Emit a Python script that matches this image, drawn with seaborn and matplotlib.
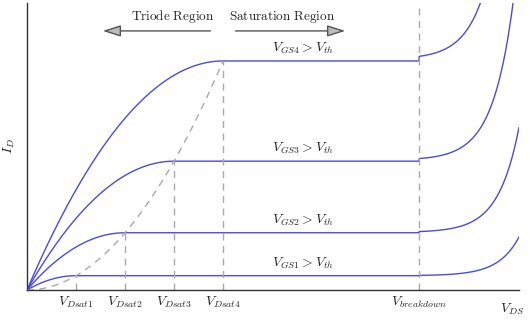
#IMPORTING NECESSARY LIBRARIES
import matplotlib
matplotlib.use('Agg')
import matplotlib.pyplot as plt
import numpy as np
import seaborn as sns

#DATA
vdsat = [1, 2, 3, 4]                      # saturation voltage of each curve
isat = [1, 4, 9, 16]                      # saturation current (square law)
gs_labels = [r'$V_{GS1} > V_{th}$', r'$V_{GS2} > V_{th}$',
             r'$V_{GS3} > V_{th}$', r'$V_{GS4} > V_{th}$']
v_breakdown = 8
bd_gain = [0.021, 0.057, 0.114, 0.2]      # breakdown rise amplitude
bd_tau = 0.42
tick_pos = [1, 2, 3, 4, 5, 6, 7, 8]
tick_labels = [r'$V_{Dsat1}$', r'$V_{Dsat2}$', r'$V_{Dsat3}$', r'$V_{Dsat4}$',
               '', '', '', r'$V_{breakdown}$']

#STYLE
sns.set_style('white')
plt.rcParams['mathtext.fontset'] = 'cm'
plt.rcParams['font.family'] = ['DejaVu Serif']

blue = '#4b4bdc'
grey = '#aaaaaa'
axcol = '#333333'

fig = plt.figure(figsize=(5.3, 3.2), dpi=100)
ax = fig.add_axes([27 / 530, 30 / 320, 492 / 530, 287 / 320])

#CURVES: TRIODE PARABOLA, FLAT SATURATION, EXPONENTIAL BREAKDOWN
x = np.linspace(0, 10.04, 1500)
for vs, i0, g in zip(vdsat, isat, bd_gain):
    y = np.where(x < vs, 2 * vs * x - x ** 2, i0)
    y = np.where(x >= v_breakdown,
                 i0 + g * (np.exp((x - v_breakdown) / bd_tau) - 1) + 0.02 * i0, y)
    sns.lineplot(x=x, y=y, ax=ax, color=blue, lw=1.0, estimator=None, sort=False)

#DASHED SATURATION BOUNDARY
dash = (0, (5, 4))
xp = np.linspace(0, vdsat[-1], 100)
sns.lineplot(x=xp, y=xp ** 2, ax=ax, color=grey, lw=1.0, ls=dash,
             estimator=None, sort=False)
for vs, i0 in zip(vdsat, isat):
    ax.plot([vs, vs], [0, i0], color=grey, lw=1.0, ls=dash)
ax.plot([v_breakdown, v_breakdown], [0, 20.05], color=grey, lw=1.0, ls=dash)

#CURVE LABELS
for i0, lab in zip(isat, gs_labels):
    ax.text(5.0, i0 + 0.35, lab, fontsize=10, ha='left', va='bottom')

#REGION ARROWS
arrow = dict(arrowstyle='-|>,head_length=1.1,head_width=0.35', fc='#bbbbbb',
             ec='#555555', lw=1.0)
ax.annotate('', xy=(1.49, 18.1), xytext=(3.8, 18.1), arrowprops=arrow)
ax.annotate('', xy=(6.55, 18.1), xytext=(4.2, 18.1), arrowprops=arrow)
ax.text(2.98, 18.5, r'$\mathrm{Triode\ Region}$', fontsize=9.5, ha='center', va='bottom')
ax.text(5.2, 18.5, r'$\mathrm{Saturation\ Region}$', fontsize=9.5, ha='center', va='bottom')

#AXES
ax.set_xlim(0, 10.04)
ax.set_ylim(0, 20.05)
ax.set_xticks(tick_pos)
ax.set_xticklabels(tick_labels, fontsize=10)
ax.set_yticks([20.05])
ax.set_yticklabels([''])
ax.tick_params(axis='both', direction='in', length=4, width=0.8, color=axcol, pad=3)
sns.despine(ax=ax)
for s in ['left', 'bottom']:
    ax.spines[s].set_color(axcol)
    ax.spines[s].set_linewidth(1.0)
ax.set_ylabel(r'$I_D$', fontsize=10, labelpad=4)
ax.text(0.962, -0.04, r'$V_{DS}$', fontsize=10, ha='left', va='top', transform=ax.transAxes)

fig.savefig('out.png', dpi=100)
